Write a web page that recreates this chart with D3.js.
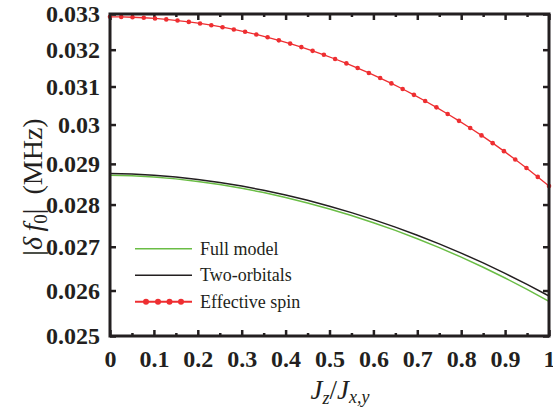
<!DOCTYPE html>
<html>
<head>
<meta charset="utf-8">
<script src="https://cdn.jsdelivr.net/npm/d3@7"></script>
<style>
body { margin: 0; background: #fff; }
text { font-family: "Liberation Serif", "Times New Roman", serif; fill: #231f20; }
</style>
</head>
<body>
<script>
var width = 553,
    height = 414;

// data
var spinX = [0, 0.0256, 0.0513, 0.0769, 0.1026, 0.1282, 0.1538, 0.1795, 0.2051, 0.2308,
    0.2564, 0.2821, 0.3077, 0.3333, 0.3590, 0.3846, 0.4103, 0.4359, 0.4615, 0.4872,
    0.5128, 0.5385, 0.5641, 0.5897, 0.6154, 0.6410, 0.6667, 0.6923, 0.7179, 0.7436,
    0.7692, 0.7949, 0.8205, 0.8462, 0.8718, 0.8974, 0.9231, 0.9487, 0.9744, 1];
var spinY = [0.032920, 0.032917, 0.032908, 0.032894, 0.032873, 0.032847, 0.032814, 0.032776, 0.032732, 0.032682,
    0.032626, 0.032564, 0.032497, 0.032423, 0.032344, 0.032259, 0.032168, 0.032071, 0.031968, 0.031859,
    0.031744, 0.031624, 0.031498, 0.031365, 0.031227, 0.031083, 0.030933, 0.030778, 0.030616, 0.030448,
    0.030275, 0.030096, 0.029911, 0.029720, 0.029523, 0.029320, 0.029111, 0.028897, 0.028676, 0.028450];

var modelX = [0, 0.05, 0.1, 0.15, 0.2, 0.25, 0.3, 0.35, 0.4, 0.45, 0.5,
    0.55, 0.6, 0.65, 0.7, 0.75, 0.8, 0.85, 0.9, 0.95, 1];
var twoOrbY = [0.028760, 0.028749, 0.028719, 0.028674, 0.028613, 0.028538, 0.028449, 0.028347, 0.028231, 0.028102, 0.027960,
    0.027806, 0.027639, 0.027461, 0.027270, 0.027067, 0.026852, 0.026626, 0.026388, 0.026138, 0.025877];
var fullY = [0.028715, 0.028703, 0.028673, 0.028627, 0.028565, 0.028488, 0.028396, 0.028291, 0.028172, 0.028040, 0.027895,
    0.027737, 0.027566, 0.027383, 0.027187, 0.026979, 0.026759, 0.026527, 0.026282, 0.026027, 0.025759];

var xTicks = [0, 0.1, 0.2, 0.3, 0.4, 0.5, 0.6, 0.7, 0.8, 0.9, 1];
var xTickLabels = ["0", "0.1", "0.2", "0.3", "0.4", "0.5", "0.6", "0.7", "0.8", "0.9", "1"];
var xMinorTicks = [0.05, 0.15, 0.25, 0.35, 0.45, 0.55, 0.65, 0.75, 0.85, 0.95];
var yTicks = [0.025, 0.026, 0.027, 0.028, 0.029, 0.03, 0.031, 0.032, 0.033];
var yTickLabels = ["0.025", "0.026", "0.027", "0.028", "0.029", "0.03", "0.031", "0.032", "0.033"];

var legendLabels = ["Full model", "Two-orbitals", "Effective spin"];
var colors = ["#6abd45", "#231f20", "#ee2e31"];

var pLeft = 110, pRight = 549, pTop = 14, pBottom = 336;

var x = d3.scaleLinear().domain([0, 1]).range([pLeft, pRight]);
var y = d3.scaleLog().domain([0.025, 0.033]).range([pBottom, pTop]);

var svg = d3.select("body").append("svg")
    .attr("width", width)
    .attr("height", height);

// ticks, all pointing inward
function fmt(list, ticks) {
    return function(d) { return list[ticks.indexOf(d)]; };
}

svg.append("g")
    .attr("transform", "translate(0," + pBottom + ")")
    .call(d3.axisBottom(x).tickValues(xTicks).tickSize(-6).tickPadding(14)
        .tickFormat(fmt(xTickLabels, xTicks)));
svg.append("g")
    .attr("transform", "translate(0," + pBottom + ")")
    .call(d3.axisBottom(x).tickValues(xMinorTicks).tickSize(-3).tickFormat(""));
svg.append("g")
    .attr("transform", "translate(0," + pTop + ")")
    .call(d3.axisTop(x).tickValues(xTicks).tickSize(-6).tickFormat(""));
svg.append("g")
    .attr("transform", "translate(0," + pTop + ")")
    .call(d3.axisTop(x).tickValues(xMinorTicks).tickSize(-3).tickFormat(""));
svg.append("g")
    .attr("transform", "translate(" + pLeft + ",0)")
    .call(d3.axisLeft(y).tickValues(yTicks).tickSize(-6).tickPadding(10)
        .tickFormat(fmt(yTickLabels, yTicks)));
svg.append("g")
    .attr("transform", "translate(" + pRight + ",0)")
    .call(d3.axisRight(y).tickValues(yTicks).tickSize(-6).tickFormat(""));

svg.selectAll(".domain").remove();
svg.selectAll(".tick line").attr("stroke", "#231f20").attr("stroke-width", 2.5);
svg.selectAll(".tick text")
    .style("font-family", "'Liberation Serif', serif")
    .style("font-weight", "bold")
    .style("font-size", "24px")
    .attr("fill", "#231f20");

// curves
var line = d3.line()
    .x(function(d) { return x(d[0]); })
    .y(function(d) { return y(d[1]); });

var full = d3.zip(modelX, fullY),
    twoOrb = d3.zip(modelX, twoOrbY),
    spin = d3.zip(spinX, spinY);

svg.append("path").datum(full)
    .attr("d", line).attr("fill", "none")
    .attr("stroke", colors[0]).attr("stroke-width", 1.5);
svg.append("path").datum(twoOrb)
    .attr("d", line).attr("fill", "none")
    .attr("stroke", colors[1]).attr("stroke-width", 1.5);
svg.append("path").datum(spin)
    .attr("d", line).attr("fill", "none")
    .attr("stroke", colors[2]).attr("stroke-width", 1.3);
svg.selectAll(".dot").data(spin)
    .enter().append("circle")
    .attr("class", "dot")
    .attr("cx", function(d) { return x(d[0]); })
    .attr("cy", function(d) { return y(d[1]); })
    .attr("r", 2.3)
    .attr("fill", colors[2]);

// frame
svg.append("rect")
    .attr("x", pLeft).attr("y", pTop)
    .attr("width", pRight - pLeft).attr("height", pBottom - pTop)
    .attr("fill", "none")
    .attr("stroke", "#231f20")
    .attr("stroke-width", 3);

// legend
var lg = svg.selectAll(".legend")
    .data(legendLabels)
    .enter().append("g")
    .attr("class", "legend")
    .attr("transform", function(d, i) { return "translate(135," + (248.7 + i * 26.5) + ")"; });

lg.append("line")
    .attr("x1", 0).attr("x2", 57)
    .attr("stroke", function(d, i) { return colors[i]; })
    .attr("stroke-width", function(d, i) { return i == 2 ? 2 : 1.5; });

lg.append("text")
    .attr("x", 65).attr("y", 6)
    .style("font-size", "18px")
    .attr("fill", "#333")
    .text(function(d) { return d; });

lg.filter(function(d, i) { return i == 2; })
    .selectAll("circle")
    .data([11, 23, 34.5, 46])
    .enter().append("circle")
    .attr("cx", function(d) { return d; })
    .attr("r", 3)
    .attr("fill", colors[2]);

// axis titles
var yl = svg.append("text")
    .attr("transform", "translate(42,187) rotate(-90)")
    .attr("text-anchor", "middle")
    .style("font-size", "28px");
yl.append("tspan").text("|");
yl.append("tspan").style("font-style", "italic").text("δ\u2009f");
yl.append("tspan").attr("dy", "0.25em").style("font-size", "19px").text("0");
yl.append("tspan").attr("dy", "-0.17em").text("|\u2002(MHz)");

var xl = svg.append("text")
    .attr("x", 340).attr("y", 399)
    .attr("text-anchor", "middle")
    .style("font-size", "27px");
xl.append("tspan").style("font-style", "italic").text("J");
xl.append("tspan").attr("dy", "0.25em").style("font-size", "18px").style("font-style", "italic").text("z");
xl.append("tspan").attr("dy", "-0.17em").text("/");
xl.append("tspan").style("font-style", "italic").text("J");
xl.append("tspan").attr("dy", "0.25em").style("font-size", "18px").style("font-style", "italic").text("x,y");
</script>
</body>
</html>
